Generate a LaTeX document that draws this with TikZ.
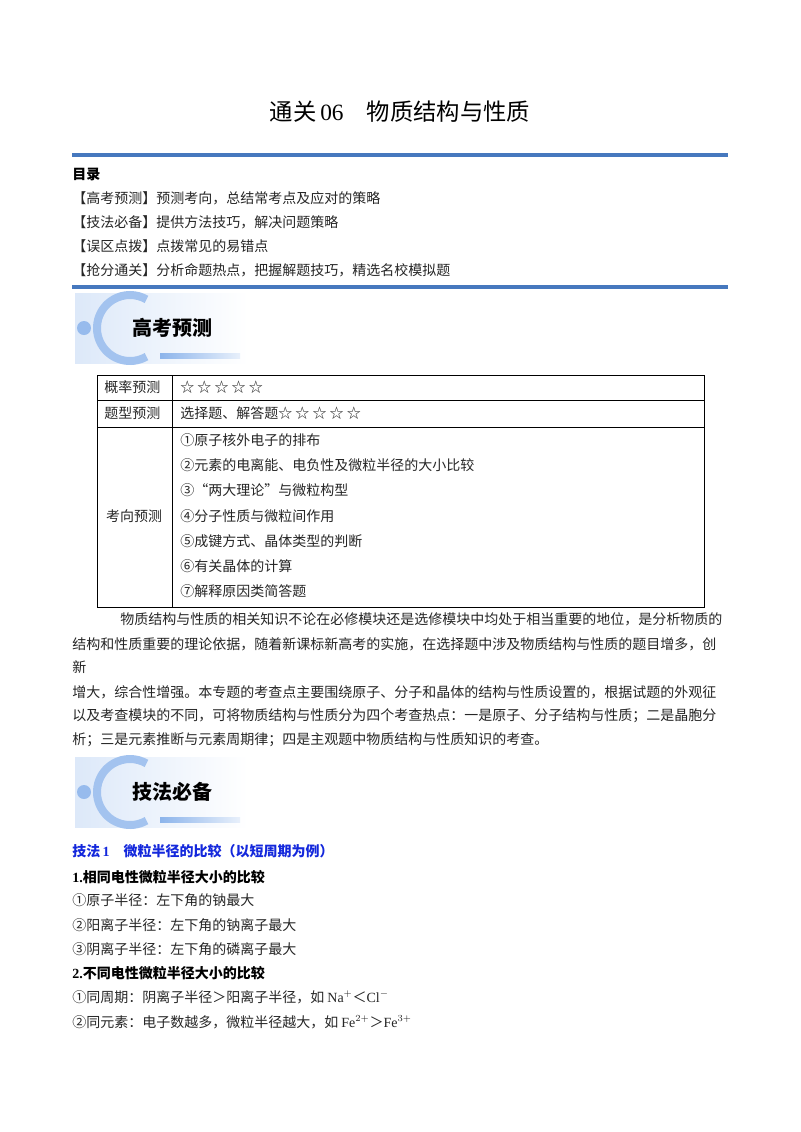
\documentclass[tikz,border=0pt]{standalone}
\usepackage{fontspec}
\setmainfont{Liberation Serif}
\newfontfamily\cjk{Noto Sans CJK SC}
\usetikzlibrary{calc}
\definecolor{rule}{RGB}{70,120,190}
\definecolor{lb}{RGB}{140,180,235}
\definecolor{hb}{RGB}{20,40,220}
\tikzset{
 tx/.style={anchor=west,inner sep=0pt,font=\cjk\fontsize{10.5}{12}\selectfont,text=black!85},
 bd/.style={tx,font=\cjk\bfseries\fontsize{10.5}{12}\selectfont,text=black},
 cell/.style={draw=black,line width=0.6pt},
}
\begin{document}
\begin{tikzpicture}[x=0.75pt,y=-0.75pt]
\useasboundingbox (0,0) rectangle (800,1132);
\fill[white] (0,0) rectangle (800,1132);
\node[inner sep=0pt,font=\cjk\fontsize{17.5}{20}\selectfont] (title) at (400,112) {通关\,{\rmfamily 06}\quad 物质结构与性质};
\draw[rule,line width=2.6pt] (72,155) -- (728,155);
\node[bd] (ml) at (72,174) {目录};
\node[tx] (t1) at (72,198) {【高考预测】预测考向，总结常考点及应对的策略};
\node[tx] (t2) at (72,222) {【技法必备】提供方法技巧，解决问题策略};
\node[tx] (t3) at (72,246) {【误区点拨】点拨常见的易错点};
\node[tx] (t4) at (72,270) {【抢分通关】分析命题热点，把握解题技巧，精选名校模拟题};
\draw[rule,line width=2.6pt] (72,287) -- (728,287);
\foreach \yy/\lab/\nm in {328/高考预测/b1, 792/技法必备/b2}{
 \shade[left color=lb!30,right color=white] (75,\yy-35) rectangle (248,\yy+35);
 \draw[lb!80,line width=6pt] ($(130,\yy)+(60:33)$) arc (60:300:33);
 \fill[lb!90] (84,\yy) circle (7);
 \shade[left color=lb,right color=lb!20] (160,\yy+25) rectangle (240,\yy+30);
 \node[inner sep=0pt,font=\cjk\bfseries\fontsize{15}{17}\selectfont] (\nm) at (172,\yy) {\lab};
}
\draw[cell] (97,375) rectangle (704,607);
\draw[cell] (97,400) -- (704,400);
\draw[cell] (97,427) -- (704,427);
\draw[cell] (172,375) -- (172,607);
\node[tx] (c11) at (104,387) {概率预测};
\node[tx] (c12) at (180,387) {☆ ☆ ☆ ☆ ☆};
\node[tx] (c21) at (104,413) {题型预测};
\node[tx] (c22) at (180,413) {选择题、解答题☆ ☆ ☆ ☆ ☆};
\node[tx,anchor=center] (c31) at (134,516) {考向预测};
\node[tx] (k1) at (180,440) {①原子核外电子的排布};
\node[tx] (k2) at (180,465) {②元素的电离能、电负性及微粒半径的大小比较};
\node[tx] (k3) at (180,490) {③“两大理论”与微粒构型};
\node[tx] (k4) at (180,516) {④分子性质与微粒间作用};
\node[tx] (k5) at (180,541) {⑤成键方式、晶体类型的判断};
\node[tx] (k6) at (180,566) {⑥有关晶体的计算};
\node[tx] (k7) at (180,591) {⑦解释原因类简答题};
\node[tx] (p1) at (120,619) {物质结构与性质的相关知识不论在必修模块还是选修模块中均处于相当重要的地位，是分析物质的};
\node[tx] (p2) at (72,644) {结构和性质重要的理论依据，随着新课标新高考的实施，在选择题中涉及物质结构与性质的题目增多，创};
\node[tx] (p3) at (72,667) {新};
\node[tx] (p4) at (72,692) {增大，综合性增强。本专题的考查点主要围绕原子、分子和晶体的结构与性质设置的，根据试题的外观征};
\node[tx] (p5) at (72,716) {以及考查模块的不同，可将物质结构与性质分为四个考查热点：一是原子、分子结构与性质；二是晶胞分};
\node[tx] (p6) at (72,740) {析；三是元素推断与元素周期律；四是主观题中物质结构与性质知识的考查。};
\node[bd,text=hb] (h1) at (72,851) {技法\,{\rmfamily 1}\quad 微粒半径的比较（以短周期为例）};
\node[bd] (s1) at (72,877) {{\rmfamily 1.}相同电性微粒半径大小的比较};
\node[tx] (s11) at (72,900) {①原子半径：左下角的钠最大};
\node[tx] (s12) at (72,925) {②阳离子半径：左下角的钠离子最大};
\node[tx] (s13) at (72,949) {③阴离子半径：左下角的磷离子最大};
\node[bd] (s2) at (72,973) {{\rmfamily 2.}不同电性微粒半径大小的比较};
\node[tx] (s21) at (72,997) {①同周期：阴离子半径＞阳离子半径，如 {\rmfamily Na$^{+}$}＜{\rmfamily Cl$^{-}$}};
\node[tx] (s22) at (72,1022) {②同元素：电子数越多，微粒半径越大，如 {\rmfamily Fe$^{2+}$}＞{\rmfamily Fe$^{3+}$}};
\end{tikzpicture}
\end{document}
